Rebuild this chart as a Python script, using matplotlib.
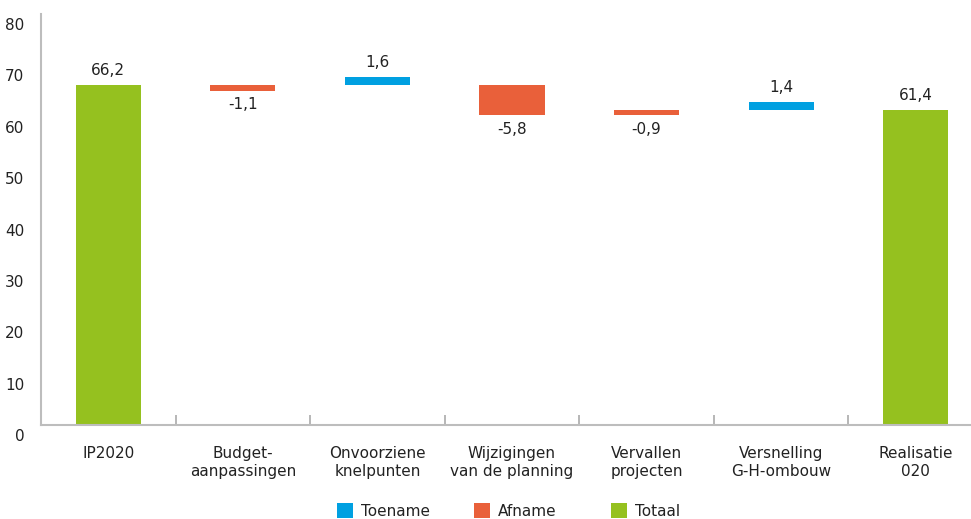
import numpy as np
import matplotlib
matplotlib.use('Agg')
import matplotlib.pyplot as plt
import matplotlib.transforms as mtransforms
from matplotlib.patches import Rectangle

plt.rcParams['font.family'] = ['DejaVu Sans']

# data
categories = ['IP2020', 'Budget-\naanpassingen', 'Onvoorziene\nknelpunten',
              'Wijzigingen\nvan de planning', 'Vervallen\nprojecten',
              'Versnelling\nG-H-ombouw', 'Realisatie\n020']
values = [66.2, -1.1, 1.6, -5.8, -0.9, 1.4, 61.4]
# lower edge of each floating bar as drawn in the original
bar_bottoms = [0, 65.1, 66.1, 60.4, 60.4, 61.4, 0]
kinds = ['Totaal', 'Afname', 'Toename', 'Afname', 'Afname', 'Toename', 'Totaal']
legend_labels = ['Toename', 'Afname', 'Totaal']

COLORS = {'Toename': '#00A0E1', 'Afname': '#E9603A', 'Totaal': '#95C11F'}
AXIS_GREY = '#BDBDBD'
TEXT = '#222222'

W, H = 971, 519
fig = plt.figure(figsize=(W / 100, H / 100), dpi=100)
ax = fig.add_axes([41 / W, (H - 425) / H, 942 / W, 411 / H])

x = np.arange(len(categories))
heights = [abs(v) for v in values]
ax.bar(x, heights, width=0.485, bottom=bar_bottoms,
       color=[COLORS[k] for k in kinds], linewidth=0)

for xi, v, b, h in zip(x, values, bar_bottoms, heights):
    lab = f'{v:.1f}'.replace('.', ',')
    if v >= 0:
        ax.annotate(lab, (xi, b + h), xytext=(0, 5), textcoords='offset points',
                    ha='center', va='bottom', fontsize=11, color=TEXT)
    else:
        ax.annotate(lab, (xi, b), xytext=(0, -5), textcoords='offset points',
                    ha='center', va='top', fontsize=11, color=TEXT)

ax.set_xlim(-0.5, 6.5)
ax.set_ylim(0, 80)
ax.set_yticks(np.arange(0, 81, 10))
ax.tick_params(axis='y', length=0, pad=12, labelsize=11, labelcolor=TEXT)
# tick labels in the original sit a bit below their levels
off = mtransforms.ScaledTranslation(0, -10 / 100, fig.dpi_scale_trans)
for lbl in ax.get_yticklabels():
    lbl.set_transform(lbl.get_transform() + off)

ax.set_xticks(x)
ax.set_xticklabels(categories, fontsize=11, color=TEXT, linespacing=1.3)
ax.tick_params(axis='x', which='major', length=0, pad=15)
ax.set_xticks(np.arange(0.5, 6.6, 1), minor=True)
ax.tick_params(axis='x', which='minor', direction='in', length=7.2,
               width=1.2, color='#AAAAAA')

for s in ['top', 'right']:
    ax.spines[s].set_visible(False)
for s in ['left', 'bottom']:
    ax.spines[s].set_color(AXIS_GREY)
    ax.spines[s].set_linewidth(1.5)

# legend: equally spaced entries under the plot
for i, k in enumerate(legend_labels):
    x0 = 337 + i * 137
    fig.add_artist(Rectangle((x0 / W, 1 / H), 16 / W, 15 / H,
                             transform=fig.transFigure, facecolor=COLORS[k],
                             edgecolor='none'))
    fig.text((x0 + 24) / W, (H - 512) / H, k, fontsize=11, color=TEXT,
             ha='left', va='center')

fig.savefig('out.png', dpi=100)
